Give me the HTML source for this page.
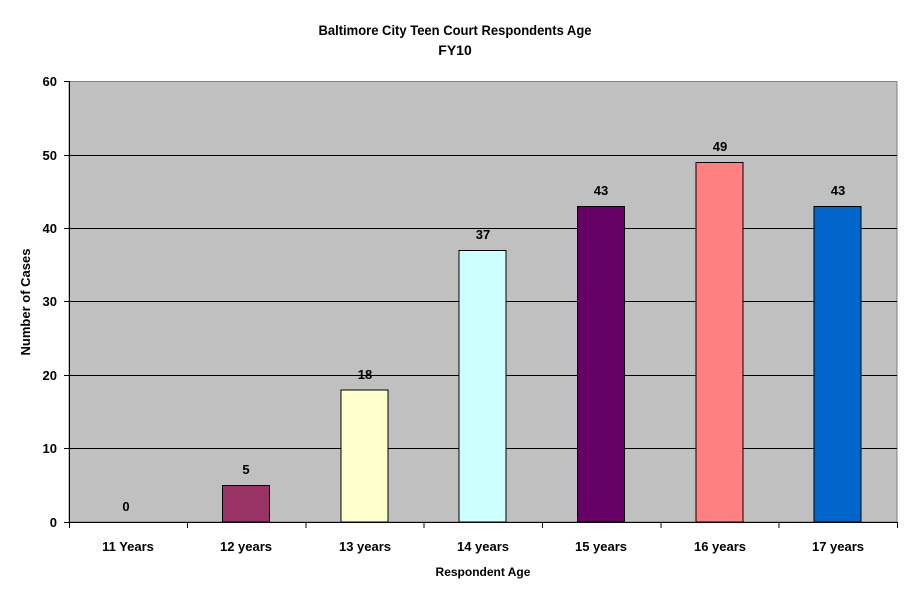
<!DOCTYPE html>
<html><head><meta charset="utf-8"><style>
html,body{margin:0;padding:0;background:#fff;}
svg{display:block;font-family:"Liberation Sans",Arial,sans-serif;}
</style></head><body>
<svg width="924" height="594" viewBox="0 0 924 594">
<rect x="0" y="0" width="924" height="594" fill="#fff"/>
<text x="455" y="35" text-anchor="middle" font-size="14" font-weight="bold" textLength="273" lengthAdjust="spacingAndGlyphs">Baltimore City Teen Court Respondents Age</text>
<text x="455" y="55" text-anchor="middle" font-size="14" font-weight="bold">FY10</text>
<rect x="69" y="81.5" width="828" height="440.5" fill="#c0c0c0" stroke="#808080" stroke-width="1"/>
<g stroke="#000" stroke-width="1">
<line x1="69" y1="448.5" x2="897" y2="448.5"/>
<line x1="69" y1="375.5" x2="897" y2="375.5"/>
<line x1="69" y1="301.5" x2="897" y2="301.5"/>
<line x1="69" y1="228.5" x2="897" y2="228.5"/>
<line x1="69" y1="155.5" x2="897" y2="155.5"/>
</g>
<g stroke="#000" stroke-width="1">
<rect x="222.5" y="485.5" width="47" height="36.5" fill="#993366"/>
<rect x="341" y="390" width="47" height="132" fill="#ffffcc"/>
<rect x="459" y="250.5" width="47" height="271.5" fill="#ccffff"/>
<rect x="577.5" y="206.5" width="47" height="315.5" fill="#660066"/>
<rect x="696" y="162.5" width="47" height="359.5" fill="#ff8080"/>
<rect x="814" y="206.5" width="47" height="315.5" fill="#0066cc"/>
</g>
<g stroke="#000" stroke-width="1">
<line x1="69.5" y1="81" x2="69.5" y2="522"/>
<line x1="69" y1="522.5" x2="897" y2="522.5"/>
<line x1="64" y1="81.5" x2="69" y2="81.5"/>
<line x1="64" y1="155.5" x2="69" y2="155.5"/>
<line x1="64" y1="228.5" x2="69" y2="228.5"/>
<line x1="64" y1="301.5" x2="69" y2="301.5"/>
<line x1="64" y1="375.5" x2="69" y2="375.5"/>
<line x1="64" y1="448.5" x2="69" y2="448.5"/>
<line x1="64" y1="522.5" x2="69" y2="522.5"/>
<line x1="69.5" y1="522" x2="69.5" y2="528"/>
<line x1="187.5" y1="522" x2="187.5" y2="528"/>
<line x1="306" y1="522" x2="306" y2="528"/>
<line x1="424" y1="522" x2="424" y2="528"/>
<line x1="542.5" y1="522" x2="542.5" y2="528"/>
<line x1="661" y1="522" x2="661" y2="528"/>
<line x1="779" y1="522" x2="779" y2="528"/>
<line x1="897.5" y1="522" x2="897.5" y2="528"/>
</g>
<g font-size="13" font-weight="bold" text-anchor="end">
<text x="57" y="86">60</text>
<text x="57" y="160">50</text>
<text x="57" y="233">40</text>
<text x="57" y="306">30</text>
<text x="57" y="380">20</text>
<text x="57" y="453">10</text>
<text x="57" y="527">0</text>
</g>
<g font-size="13" font-weight="bold" text-anchor="middle">
<text x="128" y="551">11 Years</text>
<text x="246" y="551">12 years</text>
<text x="365" y="551">13 years</text>
<text x="483" y="551">14 years</text>
<text x="601" y="551">15 years</text>
<text x="720" y="551">16 years</text>
<text x="838" y="551">17 years</text>
<text x="126" y="511">0</text>
<text x="246" y="474">5</text>
<text x="365" y="379">18</text>
<text x="483" y="239">37</text>
<text x="601" y="195">43</text>
<text x="720" y="151">49</text>
<text x="838" y="195">43</text>
</g>
<text x="483" y="576" text-anchor="middle" font-size="12" font-weight="bold">Respondent Age</text>
<text transform="translate(30,302) rotate(-90)" text-anchor="middle" font-size="13" font-weight="bold">Number of Cases</text>
</svg>
</body></html>
